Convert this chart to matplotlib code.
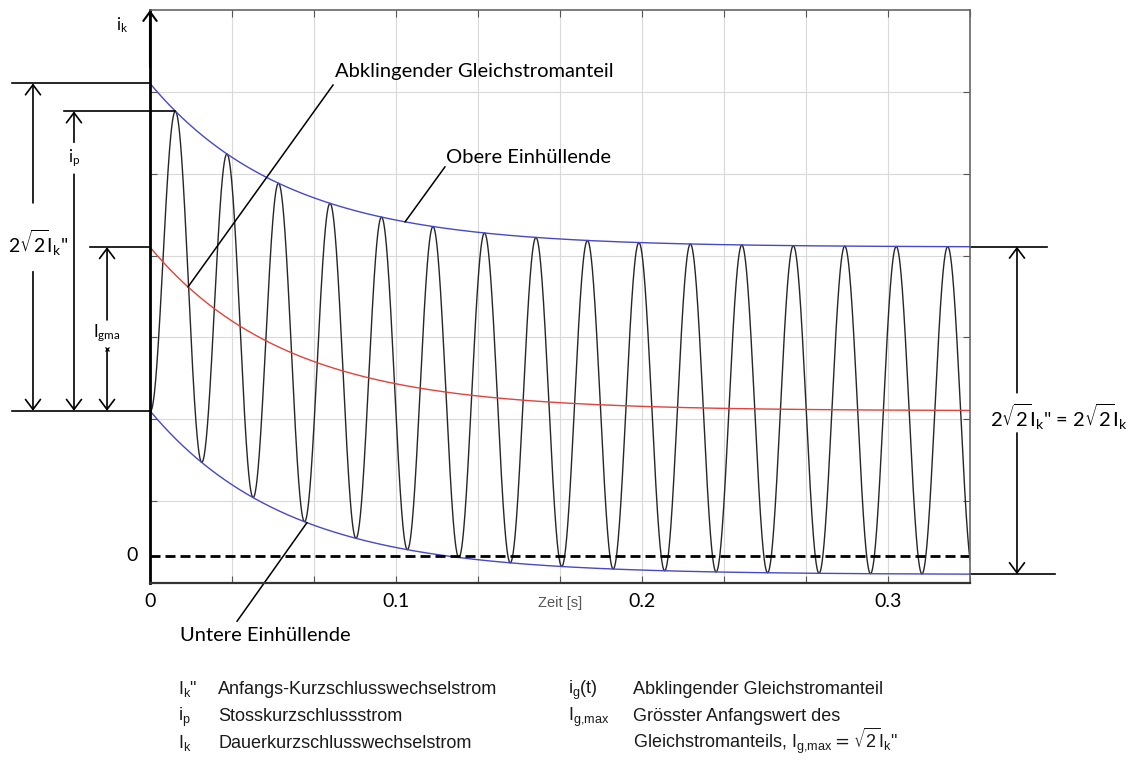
import numpy as np
import matplotlib
matplotlib.use("Agg")
import matplotlib.pyplot as plt

plt.rcParams['mathtext.fontset'] = 'dejavusans'
plt.rcParams['font.family'] = ['Lato', 'DejaVu Sans']

# values (y in grid steps, zero = dashed line)
t_end = 1 / 3          # s, right edge of the plot
f_net = 47.8           # Hz, one period is about 51.5 px
tau = 0.0555           # s, time constant of the dc part
ac_amp = 2.0           # sqrt(2) Ik''
dc_amp = 2.0           # Ig,max
dc_rest = 1.77         # level the dc part decays to
y_lim = (-1 / 3, 20 / 3)

x_ticks = np.arange(11) / 30
x_ticklabels = ['0', '', '', '0.1', '', '', '0.2', '', '', '0.3', '']
y_grid = np.arange(2 / 3, 6.5, 1)

legend_left = [(r'$\mathregular{I_k}$"', 'Anfangs-Kurzschlusswechselstrom'),
               (r'$\mathregular{i_p}$', 'Stosskurzschlussstrom'),
               (r'$\mathregular{I_k}$', 'Dauerkurzschlusswechselstrom')]
legend_right = [(r'$\mathregular{i_g(t)}$', 'Abklingender Gleichstromanteil'),
                (r'$\mathregular{I_{g{,}max}}$', 'Grösster Anfangswert des'),
                ('', r'Gleichstromanteils, $\mathregular{I_{g{,}max}} = \sqrt{\mathregular{2}}\mathregular{I_k}$"')]

t = np.linspace(0, t_end, 4000)
dc = dc_rest + dc_amp * np.exp(-t / tau)
upper = dc + ac_amp
lower = dc - ac_amp
i_k = dc - ac_amp * np.cos(2 * np.pi * f_net * t)

W, H = 1139, 765
fig = plt.figure(figsize=(W / 100, H / 100), dpi=100)
ax = fig.add_axes([150 / W, 1 - 583 / H, 820 / W, 573 / H])

ax.plot(t, i_k, color='#262626', lw=1)
ax.plot(t, upper, color='#4848c8', lw=1)
ax.plot(t, lower, color='#4848c8', lw=1)
ax.plot(t, dc, color='#e2433c', lw=1)
ax.axhline(0, color='black', lw=2, ls=(0, (3.6, 1.8)))

ax.set_xlim(0, t_end)
ax.set_ylim(*y_lim)
ax.set_xticks(x_ticks)
ax.set_xticklabels(x_ticklabels)
ax.set_yticks(y_grid)
ax.set_yticklabels([])
ax.grid(color='#d9d9d9', lw=0.8)
ax.tick_params(direction='in', length=5, top=True, right=True, color='#555555',
               labelsize=14, pad=7)
for s in ['top', 'right']:
    ax.spines[s].set_color('#666666')
    ax.spines[s].set_linewidth(1.2)
ax.spines['left'].set_linewidth(2)
ax.spines['bottom'].set_linewidth(1.6)
ax.spines['bottom'].set_color('#333333')

ax.set_xlabel('Zeit [s]', fontfamily='Liberation Sans', fontsize=10.5, color='#555555')
ax.xaxis.set_label_coords(0.5, -0.035)
ax.xaxis.label.set_va('center')

# arrow on the y axis
ax.annotate('', xy=(0, 1.0), xytext=(0, 0.9), xycoords='axes fraction',
            arrowprops=dict(arrowstyle='->,head_length=0.55,head_width=0.4', lw=1.5,
                            color='black', mutation_scale=12, shrinkA=0, shrinkB=0))
tr = ax.get_yaxis_transform()
ax.text(-0.034, 6.48, r'$\mathregular{i_k}$', transform=tr, ha='center', va='center', fontsize=12)
ax.text(-0.015, 0, '0', transform=tr, ha='right', va='center', fontsize=14)


def hline(x0, x1, y):
    ax.plot([x0, x1], [y, y], transform=tr, clip_on=False, color='black', lw=1.2)


def arrow(x, y_from, y_to):
    ax.annotate('', xy=(x, y_to), xytext=(x, y_from), xycoords=tr, textcoords=tr,
                arrowprops=dict(arrowstyle='->,head_length=0.6,head_width=0.45', lw=1.2,
                                color='black', mutation_scale=12, shrinkA=0, shrinkB=0))


# left side dimensions
first = t < 1 / f_net
k_peak = np.argmax(i_k[first])
ip = i_k[k_peak]
hline(-0.168, 0, upper[0])
hline(-0.105, t[k_peak] / t_end, ip)
hline(-0.073, 0, dc[0])
hline(-0.168, 0, lower[0])

arrow(-0.1427, 4.31, upper[0])
arrow(-0.1427, 3.47, lower[0])
ax.text(-0.136, 3.82, r'$\mathregular{2}\sqrt{\mathregular{2}}\mathregular{I_k}$"', transform=tr,
        ha='center', va='center', fontsize=14)

arrow(-0.0927, 5.05, ip)
arrow(-0.0927, 4.66, lower[0])
ax.text(-0.0927, 4.86, r'$\mathregular{i_p}$', transform=tr, ha='center', va='center', fontsize=12)

arrow(-0.0524, 2.88, dc[0])
arrow(-0.0524, 2.52, lower[0])
ax.plot([-0.0524], [2.52], transform=tr, clip_on=False, marker='x', ms=3, mew=0.9, color='black')
ax.text(-0.0524, 2.72, r'$\mathregular{I_{gma}}$', transform=tr, ha='center', va='center', fontsize=12)

# right side dimension
hline(1, 1.094, upper[-1])
hline(1, 1.104, lower[-1])
arrow(1.0573, 1.99, upper[-1])
arrow(1.0573, 1.50, lower[-1])
ax.text(1.0244, 1.70, r'$\mathregular{2}\sqrt{\mathregular{2}}\mathregular{I_k}$" = '
        r'$\mathregular{2}\sqrt{\mathregular{2}}\mathregular{I_k}$',
        transform=tr, ha='left', va='center', fontsize=14.5)

# curve names with leader lines
t_red, t_up, t_low = 0.01545, 0.1037, 0.0638
ax.plot([0.0744, t_red], [5.75, np.interp(t_red, t, dc)], color='black', lw=1.1)
ax.text(0.0752, 5.91, 'Abklingender Gleichstromanteil', ha='left', va='center', fontsize=14.5)
ax.plot([0.1199, t_up], [4.75, np.interp(t_up, t, upper)], color='black', lw=1.1)
ax.text(0.1203, 4.86, 'Obere Einhüllende', ha='left', va='center', fontsize=14.5)
ax.plot([0.0354, t_low], [-0.80, np.interp(t_low, t, lower)], color='black', lw=1.1, clip_on=False)
ax.text(0.0122, -0.97, 'Untere Einhüllende', ha='left', va='center', fontsize=14.5)

# legend below the chart
rows = [694, 721, 748]
for (sym, txt), py in zip(legend_left, rows):
    fig.text(178 / W, 1 - py / H, sym, fontfamily='Liberation Sans', fontsize=13, color='#1a1a1a')
    fig.text(218 / W, 1 - py / H, txt, fontfamily='Liberation Sans', fontsize=13, color='#1a1a1a')
for (sym, txt), py in zip(legend_right, rows):
    if sym:
        fig.text(568 / W, 1 - py / H, sym, fontfamily='Liberation Sans', fontsize=13, color='#1a1a1a')
    fig.text(633 / W, 1 - py / H, txt, fontfamily='Liberation Sans', fontsize=13, color='#1a1a1a')

fig.savefig('out.png', dpi=100)
